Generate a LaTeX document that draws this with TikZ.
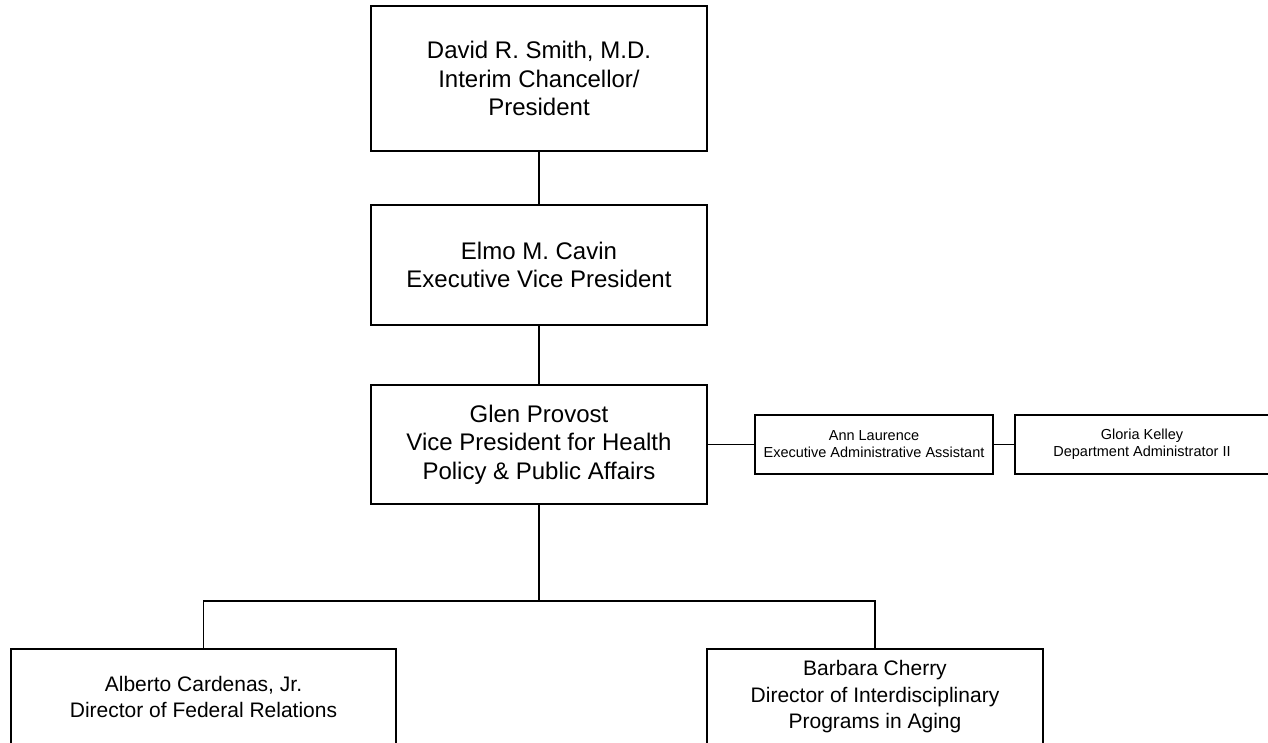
\documentclass[tikz,border=0pt]{standalone}
\usepackage{fontspec}
\setmainfont{Liberation Sans}
\begin{document}
\begin{tikzpicture}[x=1pt,y=-1pt,
  box/.style={draw=black,line width=1.8pt,rectangle,inner sep=0pt,align=center,anchor=center},
  big/.style={box,font=\fontsize{24}{28.5}\selectfont},
  small/.style={box,font=\fontsize{14.5}{17}\selectfont},
  mid/.style={box,font=\fontsize{21}{26.5}\selectfont},
  conn/.style={draw=black,line width=1.8pt}]
\useasboundingbox (0,0) rectangle (1268,742);
\node[big,minimum width=336pt,minimum height=145pt] (top) at (539,78.5) {David R. Smith, M.D.\\Interim Chancellor/\\President};
\node[big,minimum width=336pt,minimum height=120pt] (evp) at (539,265) {Elmo M. Cavin\\Executive Vice President};
\node[big,minimum width=336pt,minimum height=119pt] (vp) at (539,444.5) {Glen Provost\\Vice President for Health\\Policy \& Public Affairs};
\node[small,minimum width=238pt,minimum height=59pt] (ann) at (874,444.5) {Ann Laurence\\Executive Administrative Assistant};
\node[small,minimum width=254pt,minimum height=59pt] (gloria) at (1142,444.5) {Gloria Kelley\\Department Administrator II};
\node[mid,minimum width=385pt,minimum height=96pt] (alb) at (203.5,697) {Alberto Cardenas, Jr.\\Director of Federal Relations};
\node[mid,minimum width=336pt,minimum height=96pt] (bar) at (875,697) {Barbara Cherry\\Director of Interdisciplinary\\Programs in Aging};
\coordinate (bus) at (539,601);
\draw[conn] (top.south) -- (evp.north);
\draw[conn] (evp.south) -- (vp.north);
\draw[conn] (vp.east) -- (ann.west);
\draw[conn] (ann.east) -- (gloria.west);
\draw[conn] (vp.south) -- (bus);
\draw[conn] (alb.north) |- (bus) -| (bar.north);
\end{tikzpicture}
\end{document}
